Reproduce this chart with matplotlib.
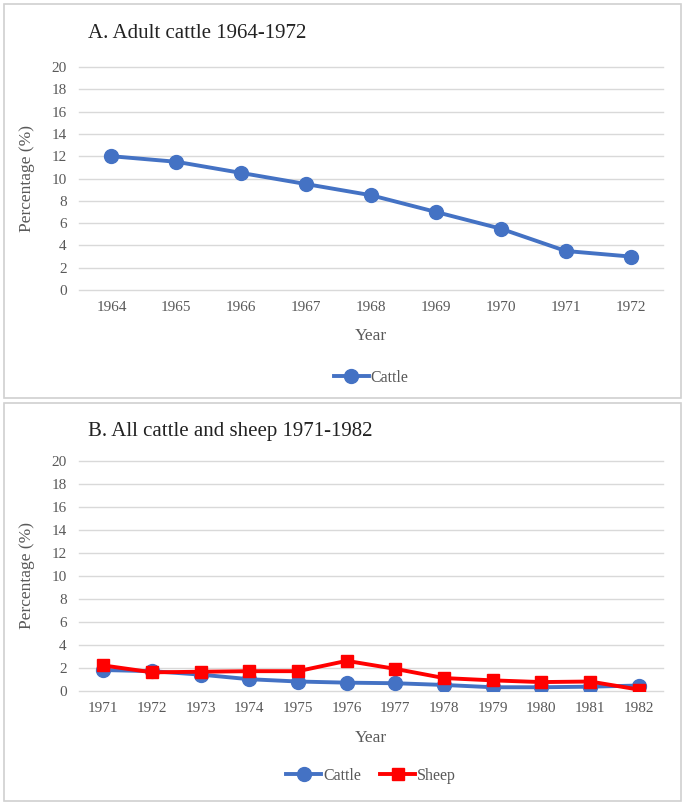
import matplotlib.pyplot as plt
from matplotlib.patches import Rectangle

plt.rcParams['font.family'] = ['Liberation Serif', 'DejaVu Serif']

# Panel A: adult cattle
years_a = ['1964', '1965', '1966', '1967', '1968', '1969', '1970', '1971', '1972']
cattle_a = [12.0, 11.5, 10.5, 9.5, 8.5, 7.0, 5.5, 3.5, 3.0]

# Panel B: all cattle and sheep
years_b = ['1971', '1972', '1973', '1974', '1975', '1976', '1977', '1978', '1979', '1980', '1981', '1982']
cattle_b = [1.8, 1.7, 1.4, 1.0, 0.8, 0.7, 0.65, 0.5, 0.3, 0.3, 0.35, 0.45]
sheep_b = [2.2, 1.6, 1.65, 1.7, 1.7, 2.6, 1.9, 1.1, 0.9, 0.75, 0.8, 0.1]

BLUE = '#4472C4'
RED = '#FF0000'
GRID = '#D9D9D9'
TXT = '#595959'
W, H = 685, 807

fig = plt.figure(figsize=(W / 100, H / 100), dpi=100)

# panel frames
for y0, y1 in [(4, 398), (403, 801)]:
    fig.patches.append(Rectangle((4 / W, 1 - y1 / H), 677 / W, (y1 - y0) / H,
                                 transform=fig.transFigure, fill=False,
                                 edgecolor='#D0D0D0', linewidth=1.2))


def style_axes(ax, labels, leg_y):
    ax.set_ylim(0, 20)
    ax.set_xlim(-0.5, len(labels) - 0.5)
    ax.set_yticks(range(0, 21, 2))
    ax.set_xticks(range(len(labels)))
    ax.set_xticklabels(labels)
    ax.grid(axis='y', color=GRID, linewidth=1)
    for gl in ax.get_ygridlines():
        gl.set_clip_on(False)
    ax.set_axisbelow(True)
    for s in ax.spines.values():
        s.set_visible(False)
    ax.tick_params(length=0, labelsize=11, colors=TXT)
    ax.tick_params(axis='x', pad=8)
    ax.tick_params(axis='y', pad=9)
    ax.set_xlabel('Year', fontsize=12.5, color=TXT)
    ax.set_ylabel('Percentage (%)', fontsize=12.5, color=TXT)
    ax.xaxis.set_label_coords(0.5, -0.17)
    ax.yaxis.set_label_coords(-0.075, 0.5)
    leg = ax.legend(loc='center', bbox_to_anchor=(0.5, leg_y), ncol=2, frameon=False,
                    fontsize=11.5, handlelength=2.2, handletextpad=0.1, columnspacing=1.2)
    for t in leg.get_texts():
        t.set_color(TXT)


ax1 = fig.add_axes([79 / W, 1 - 290 / H, 584 / W, 223 / H])
ax1.plot(range(len(years_a)), cattle_a, color=BLUE, lw=2.8, marker='o', ms=10, label='Cattle')
style_axes(ax1, years_a, -0.395)
fig.text(88 / W, 1 - 33 / H, 'A. Adult cattle 1964-1972', fontsize=15, color='#222222', va='center')

ax2 = fig.add_axes([79 / W, 1 - 690.7 / H, 584 / W, 229.7 / H])
ax2.plot(range(len(years_b)), cattle_b, color=BLUE, lw=2.8, marker='o', ms=10, label='Cattle')
ax2.plot(range(len(years_b)), sheep_b, color=RED, lw=2.8, marker='s', ms=9, label='Sheep')
style_axes(ax2, years_b, -0.37)
fig.text(88 / W, 1 - 432 / H, 'B. All cattle and sheep 1971-1982', fontsize=15, color='#222222', va='center')

fig.savefig('out.png', dpi=100)
